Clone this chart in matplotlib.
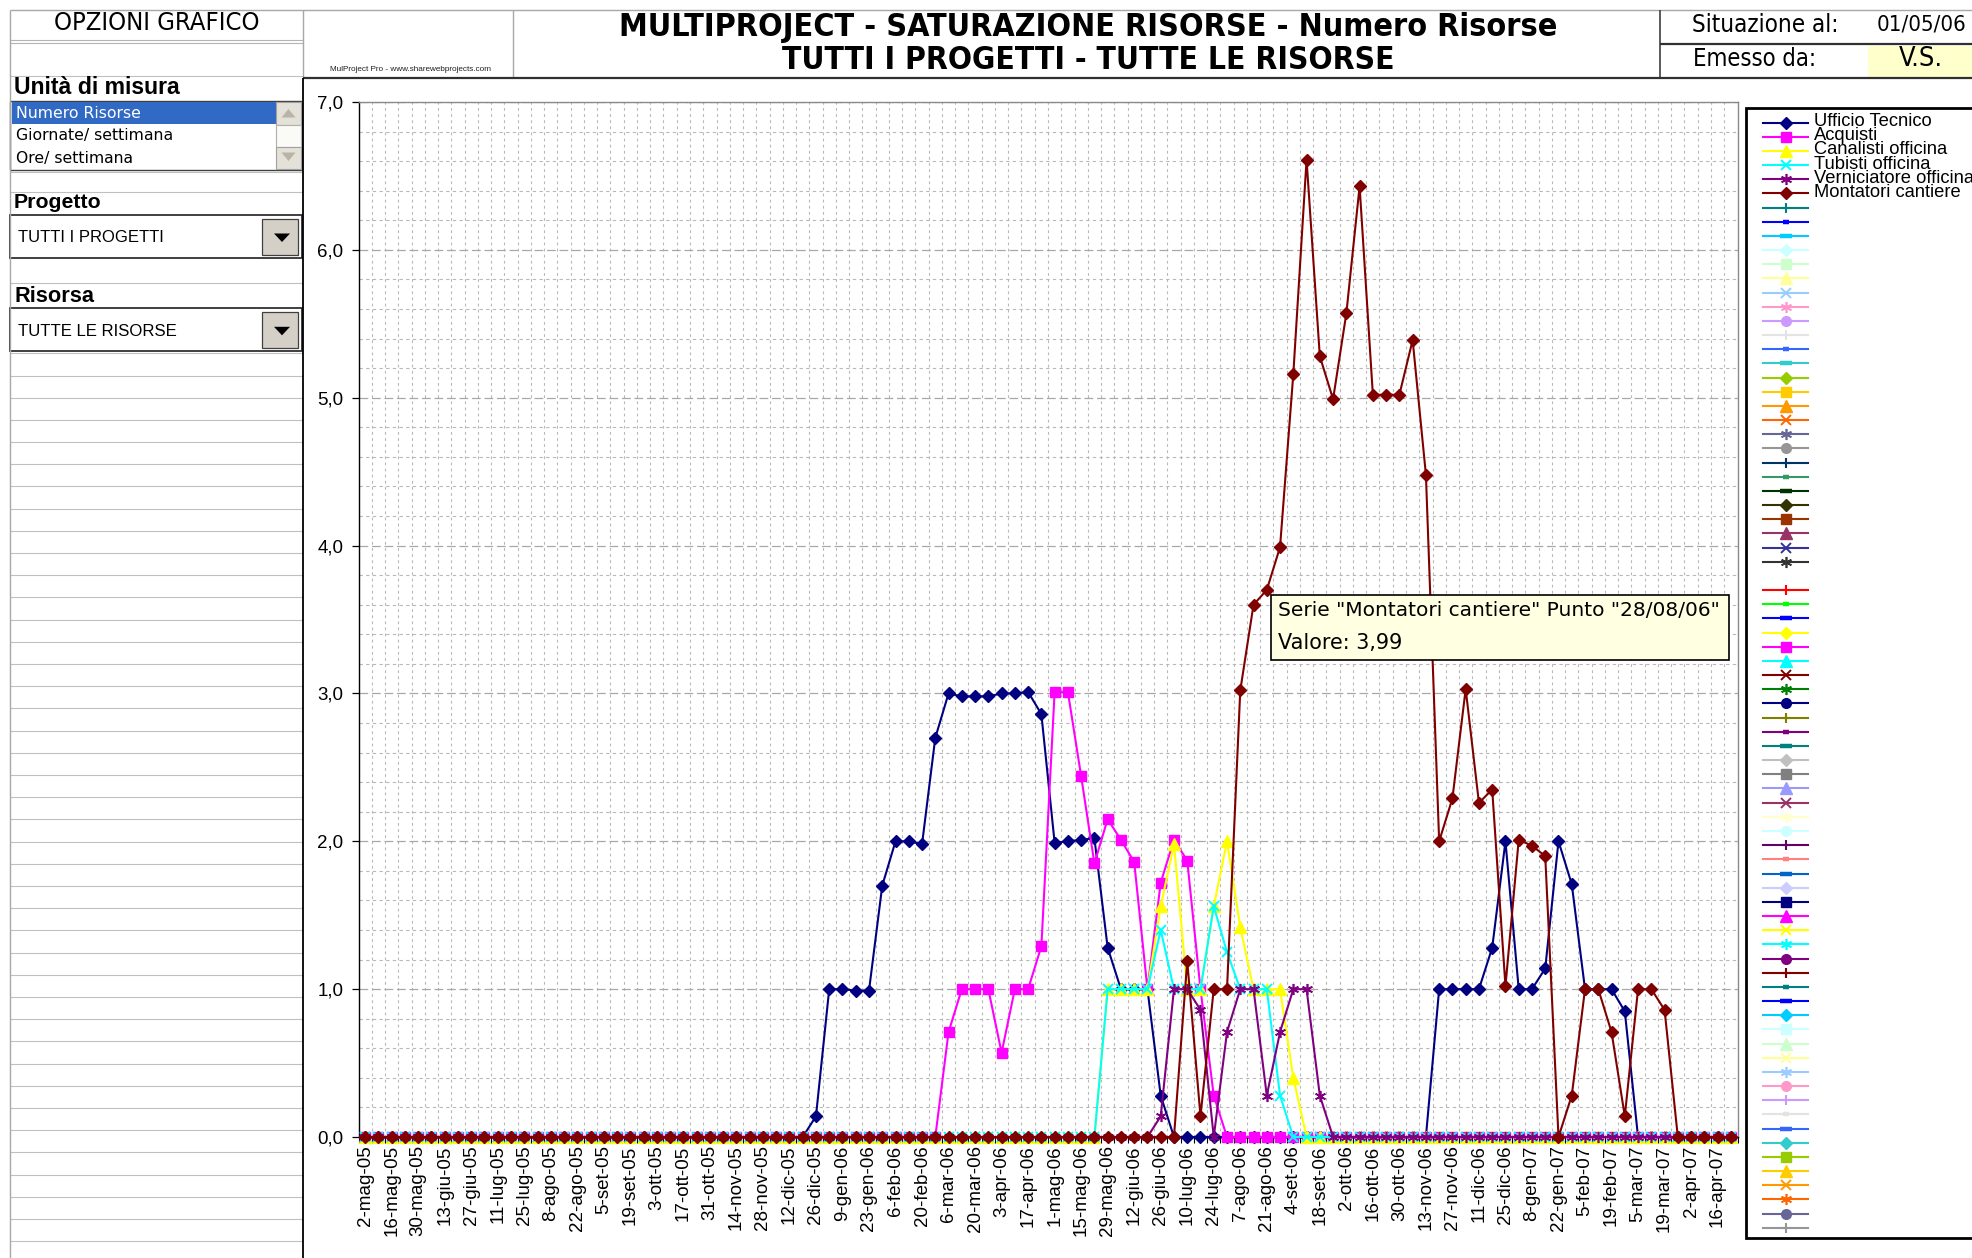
import numpy as np
import pandas as pd
import matplotlib
matplotlib.use("Agg")
import matplotlib.pyplot as plt
from matplotlib import font_manager as fm
from matplotlib.patches import Rectangle, Polygon
from matplotlib.ticker import MultipleLocator, FixedLocator, FuncFormatter

W, H = 1972, 1258

# categorie settimanali (asse x)
settimane = pd.date_range("2005-05-02", periods=104, freq="7D")
mesi = ["gen", "feb", "mar", "apr", "mag", "giu", "lug", "ago", "set", "ott", "nov", "dic"]
categorie = [f"{d.day}-{mesi[d.month - 1]}-{d:%y}" for d in settimane]

# valori (numero risorse per settimana)
ufficio_tecnico = [0] * 34 + [0.14, 1.0, 1.0, 0.99, 0.99, 1.70, 2.0, 2.0, 1.98, 2.70, 3.0, 2.98, 2.98,
                              2.98, 3.0, 3.0, 3.01, 2.86, 1.99, 2.0, 2.01, 2.02, 1.28, 1.0, 1.0, 1.0,
                              0.28] + [0] * 20 + [1.0, 1.0, 1.0, 1.0, 1.28, 2.0, 1.0, 1.0, 1.14, 2.0,
                                                  1.71, 1.0, 1.0, 1.0, 0.85] + [0] * 8
acquisti = [0] * 44 + [0.71, 1.0, 1.0, 1.0, 0.57, 1.0, 1.0, 1.29, 3.01, 3.01, 2.44, 1.85, 2.15, 2.01,
                       1.86, 1.0, 1.72, 2.01, 1.87, 1.0, 0.28] + [0] * 39
canalisti = [0] * 56 + [1.0, 1.0, 1.0, 1.0, 1.56, 1.98, 1.0, 1.0, 1.56, 2.0, 1.42, 1.0, 1.0, 1.0,
                        0.40] + [0] * 33
tubisti = [0] * 56 + [1.0, 1.0, 1.0, 1.0, 1.40, 1.0, 1.0, 1.0, 1.56, 1.25, 1.0, 1.0, 1.0, 0.28] + [0] * 34
verniciatore = [0] * 60 + [0.14, 1.0, 1.0, 0.86, 0.0, 0.71, 1.0, 1.0, 0.28, 0.71, 1.0, 1.0, 0.28] + [0] * 31
montatori = [0] * 62 + [1.19, 0.14, 1.0, 1.0, 3.02, 3.60, 3.70, 3.99, 5.16, 6.61, 5.28, 4.99, 5.57, 6.43,
                        5.02, 5.02, 5.02, 5.39, 4.48, 2.0, 2.29, 3.03, 2.26, 2.35, 1.02, 2.01, 1.97, 1.90,
                        0.0, 0.28, 1.0, 1.0, 0.71, 0.14, 1.0, 1.0, 0.86] + [0] * 5

risorse = ["Ufficio Tecnico", "Acquisti", "Canalisti officina", "Tubisti officina",
           "Verniciatore officina", "Montatori cantiere"]
serie = [ufficio_tecnico, acquisti, canalisti, tubisti, verniciatore, montatori]

# colori delle voci di legenda (palette Excel)
colori_legenda = [
    "#000080", "#FF00FF", "#FFFF00", "#00FFFF", "#800080", "#800000", "#008080", "#0000FF",
    "#00CCFF", "#CCFFFF", "#CCFFCC", "#FFFF99", "#99CCFF", "#FF99CC", "#CC99FF", "#E3E3E3",
    "#3366FF", "#33CCCC", "#99CC00", "#FFCC00", "#FF9900", "#FF6600", "#666699", "#969696",
    "#003366", "#339966", "#003300", "#333300", "#993300", "#993366", "#333399", "#333333",
    "#FFFFFF",
    "#FF0000", "#00FF00", "#0000FF", "#FFFF00", "#FF00FF", "#00FFFF", "#800000", "#008000",
    "#000080", "#808000", "#800080", "#008080", "#C0C0C0", "#808080", "#9999FF", "#993366",
    "#FFFFCC", "#CCFFFF", "#660066", "#FF8080", "#0066CC", "#CCCCFF", "#000080", "#FF00FF",
    "#FFFF00", "#00FFFF", "#800080", "#800000", "#008080", "#0000FF", "#00CCFF", "#CCFFFF",
    "#CCFFCC", "#FFFF99", "#99CCFF", "#FF99CC", "#CC99FF", "#E3E3E3", "#3366FF", "#33CCCC",
    "#99CC00", "#FFCC00", "#FF9900", "#FF6600", "#666699", "#969696",
]

ASTER = (6, 2, 0)
# (marker, size, edge width) ciclo dei marcatori Excel
marcatori = [("D", 6.3, 1.0), ("s", 7.8, 1.0), ("^", 8.5, 1.0), ("x", 7.0, 1.4), (ASTER, 8.0, 1.2),
             ("o", 7.0, 1.0), ("+", 7.0, 1.5), ("_", 5.0, 3.2), ("_", 9.0, 3.2)]

plt.rcParams["font.family"] = ["Liberation Sans", "DejaVu Sans"]

nomi = {f.name for f in fm.fontManager.ttflist}
if "Liberation Sans Narrow" in nomi:
    STRETTO = {"family": "Liberation Sans Narrow"}
else:
    STRETTO = {"family": "DejaVu Sans", "fontstretch": "condensed"}

fig = plt.figure(figsize=(W / 100, H / 100), dpi=100, facecolor="white")

# ---------------- grafico ----------------
ax = fig.add_axes([358.5 / W, (H - 1137) / H, 1379 / W, 1035 / H])
x = np.arange(len(categorie))
stili_serie = marcatori[:5] + [("D", 6.5, 1.0)]
for nome, valori, col, (mk, ms, mew) in zip(risorse, serie, colori_legenda[:6], stili_serie):
    ax.plot(x, valori, color=col, lw=1.5, marker=mk, ms=ms, mfc=col, mec=col, mew=mew,
            clip_on=False, label=nome, zorder=3)

ax.set_xlim(-0.5, len(categorie) - 0.5)
ax.set_ylim(0, 7)
ax.yaxis.set_major_locator(MultipleLocator(1))
ax.yaxis.set_minor_locator(MultipleLocator(0.2))
ax.yaxis.set_major_formatter(FuncFormatter(lambda v, p: f"{v:.1f}".replace(".", ",")))
ax.xaxis.set_major_locator(FixedLocator(x[::2]))
ax.set_xticklabels(categorie[::2], rotation=90)
ax.xaxis.set_minor_locator(FixedLocator(np.arange(-0.5, len(categorie), 1)))
ax.tick_params(axis="x", which="major", length=0, pad=6, labelsize=13.5)
ax.tick_params(axis="x", which="minor", length=4, direction="out", width=0.8)
ax.tick_params(axis="y", which="major", length=5, width=0.9, pad=6, labelsize=13.5)
ax.tick_params(axis="y", which="minor", length=0)

ax.grid(True, axis="y", which="major", color="#A8A8A8", lw=0.9, linestyle=(0, (7, 3)))
ax.grid(True, axis="y", which="minor", color="#B8B8B8", lw=0.8, linestyle=(0, (3, 3)))
ax.grid(True, axis="x", which="minor", color="#B8B8B8", lw=0.8, linestyle=(0, (2.5, 3)))
ax.grid(False, axis="x", which="major")
ax.set_axisbelow(True)
for lato in ["left", "bottom"]:
    ax.spines[lato].set_color("black")
    ax.spines[lato].set_linewidth(1.0)
for lato in ["top", "right"]:
    ax.spines[lato].set_color("#8A8A8A")
    ax.spines[lato].set_linewidth(1.0)

# ---------------- cornice foglio ----------------
ov = fig.add_axes([0, 0, 1, 1])
ov.set_xlim(0, W)
ov.set_ylim(H, 0)
ov.axis("off")
ov.patch.set_visible(False)
renderer = fig.canvas.get_renderer()


def testo(xp, yp, s, larghezza, **kw):
    t = ov.text(xp, yp, s, **kw)
    w = t.get_window_extent(renderer).width
    t.set_fontsize(t.get_fontsize() * larghezza / w)
    return t


grigio = "#C0C0C0"
righe = [76, 171.7, 191.7, 283.3] + list(np.arange(353.3, H, 22.2))
ov.hlines(righe, 10, 303, color=grigio, lw=0.8)
ov.hlines(10, 10, W, color="#A8A8A8", lw=1.0)
ov.hlines([39.5, 42.5], 10, 303, color="#B4B4B4", lw=0.8)
ov.vlines(10, 10, H, color="#A8A8A8", lw=1.0)
ov.vlines([303, 513], 10, 78, color="#A8A8A8", lw=1.0)
ov.vlines(1660, 10, 78, color="#404040", lw=1.2)
ov.hlines(44, 1660, W, color="#303030", lw=1.6)
ov.hlines(78, 303, W, color="#303030", lw=1.6)
ov.vlines(303, 78, H, color="black", lw=1.3)
ov.add_patch(Rectangle((1868, 45.5), W - 1868, 31.5, fc="#FFFFCC", ec="none"))

testo(156.5, 23, "OPZIONI GRAFICO", 207, ha="center", va="center", fontsize=14, **STRETTO)
testo(1088, 27.5, "MULTIPROJECT - SATURAZIONE RISORSE - Numero Risorse", 936, ha="center",
      va="center", fontsize=20, fontweight="bold", **STRETTO)
testo(1088, 60.5, "TUTTI I PROGETTI - TUTTE LE RISORSE", 612, ha="center", va="center",
      fontsize=20, fontweight="bold", **STRETTO)
sit = testo(1691.5, 25, "Situazione al:", 147, ha="left", va="center", fontsize=14, **STRETTO)
ov.text(1966, 25, "01/05/06", ha="right", va="center", fontsize=sit.get_fontsize() * 0.92,
        **STRETTO)
testo(1693, 59, "Emesso da:", 124, ha="left", va="center", fontsize=14, **STRETTO)
testo(1921, 59, "V.S.", 44, ha="center", va="center", fontsize=14, **STRETTO)
testo(330, 69.5, "MulProject Pro - www.sharewebprojects.com", 160, ha="left", va="center",
      fontsize=4, color="#202020")

# pannello opzioni
testo(14, 88, "Unità di misura", 166, ha="left", va="center", fontsize=15, fontweight="bold")
ov.add_patch(Rectangle((10, 100.5), 292, 69, fc="white", ec="#404040", lw=1.0))
ov.add_patch(Rectangle((11.5, 102), 264, 21.5, fc="#316AC5", ec="none"))
testo(16, 113, "Numero Risorse", 126, ha="left", va="center", fontsize=11, color="white",
      family="DejaVu Sans")
testo(16, 135.5, "Giornate/ settimana", 158, ha="left", va="center", fontsize=11,
      family="DejaVu Sans")
testo(16, 158, "Ore/ settimana", 117, ha="left", va="center", fontsize=11, family="DejaVu Sans")
ov.add_patch(Rectangle((276, 102), 25, 22.5, fc="#E4E1D8", ec="#A0A0A0", lw=0.8))
ov.add_patch(Rectangle((276, 124.5), 25, 22, fc="#FAFAF7", ec="#B0B0B0", lw=0.8))
ov.add_patch(Rectangle((276, 146.5), 25, 22, fc="#E4E1D8", ec="#A0A0A0", lw=0.8))
ov.add_patch(Polygon([(281.5, 117.5), (295.5, 117.5), (288.5, 109)], fc="#B8B4A8", ec="none"))
ov.add_patch(Polygon([(281.5, 152.5), (295.5, 152.5), (288.5, 161)], fc="#B8B4A8", ec="none"))

testo(14, 203, "Progetto", 88, ha="left", va="center", fontsize=15, fontweight="bold")
testo(14, 296.5, "Risorsa", 80, ha="left", va="center", fontsize=15, fontweight="bold")
for y0, voce, larg in [(215, "TUTTI I PROGETTI", 146), (308.3, "TUTTE LE RISORSE", 158)]:
    ov.add_patch(Rectangle((10, y0), 292, 43, fc="white", ec="#303030", lw=1.3))
    testo(18.5, y0 + 23, voce, larg, ha="left", va="center", fontsize=12)
    ov.add_patch(Rectangle((262, y0 + 4), 36, 36, fc="#D4D0C8", ec="#404040", lw=0.9))
    ov.add_patch(Polygon([(274, y0 + 18.5), (290, y0 + 18.5), (282, y0 + 27)], fc="black",
                         ec="none"))

# legenda
ov.add_patch(Rectangle((1746, 108), 240, 1129.5, fc="white", ec="black", lw=2.0, zorder=1))
lx0, lxm, lx1 = 1763, 1786, 1808
for k, col in enumerate(colori_legenda):
    yk = 122.5 + k * 14.17
    mk, ms, mew = stili_serie[k] if k < len(stili_serie) else marcatori[k % 9]
    ov.plot([lx0, lxm, lx1], [yk, yk, yk], color=col, lw=1.5, marker=mk, markevery=[1], ms=ms,
            mfc=col, mec=col, mew=mew, zorder=2)
    if k < len(risorse):
        ov.text(1814, yk - 1, risorse[k], ha="left", va="center", fontsize=13.2, zorder=3)

# tooltip
ov.add_patch(Rectangle((1271, 595), 458, 65, fc="#FFFFE1", ec="black", lw=1.2, zorder=4))
testo(1278, 611, "Serie \"Montatori cantiere\" Punto \"28/08/06\"", 443, ha="left", va="center",
      fontsize=14, family="DejaVu Sans", zorder=5)
testo(1278, 643, "Valore: 3,99", 125, ha="left", va="center", fontsize=14, family="DejaVu Sans",
      zorder=5)

fig.savefig("out.png", dpi=100, facecolor="white")
